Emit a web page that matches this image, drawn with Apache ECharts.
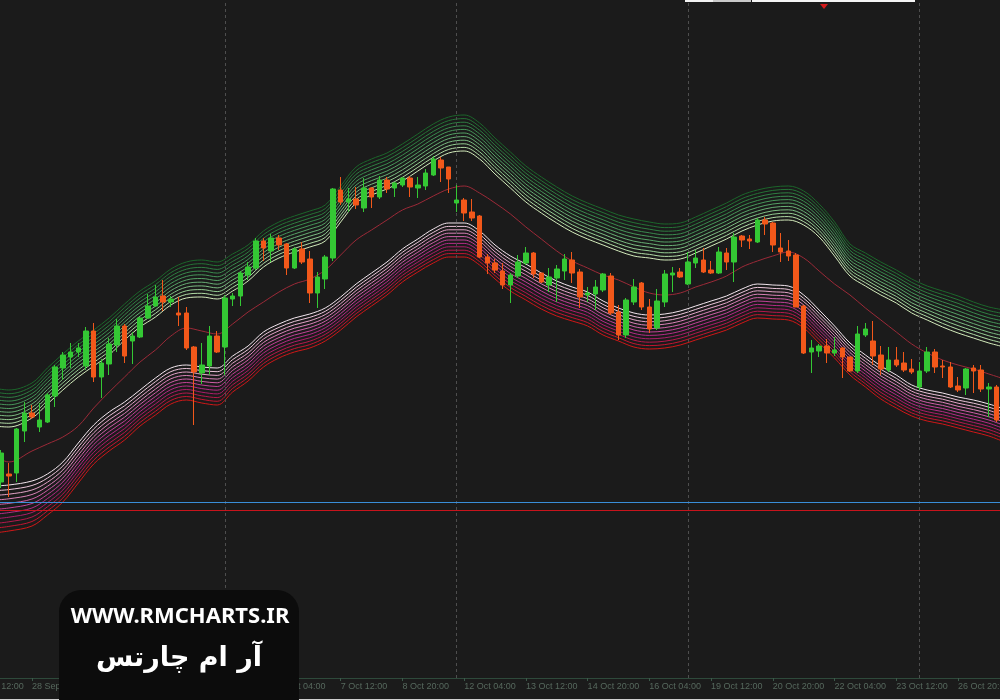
<!DOCTYPE html>
<html><head><meta charset="utf-8">
<script src="https://cdn.jsdelivr.net/npm/echarts@6/dist/echarts.min.js"></script>
<style>html,body{margin:0;padding:0;background:#1b1b1b;}#chart{width:1000px;height:700px;}</style>
</head><body><div id="chart"></div>
<script>
// ---- tick labels (one every 8 H4 bars) ----
const tickLabels = ['25 Sep 12:00','28 Sep 20:00','30 Sep 04:00','1 Oct 12:00','2 Oct 20:00','6 Oct 04:00',
  '7 Oct 12:00','8 Oct 20:00','12 Oct 04:00','13 Oct 12:00','14 Oct 20:00','16 Oct 04:00','19 Oct 12:00',
  '20 Oct 20:00','22 Oct 04:00','23 Oct 12:00','26 Oct 20:00'];
const leadBars = 4;          // bars before the first visible candle
const trailBars = 1;         // bar after the last candle
// ---- candles [open, close, low, high] ----
const candles = [
[218,247,212,250],[226,224,203,237],[227,271,218,272],[269,287,258,298],[287,283,281,295],
[273,280,268,297],[278,305,277,307],[304,333,293,335],[332,345,320,348],[343,348,332,357],
[348,352,343,357],[334,369,330,373],[369,323,318,377],[323,337,302,341],[336,356,325,362],
[355,374,348,381],[374,344,337,376],[359,364,336,368],[363,382,362,383],[382,394,381,406],
[394,403,393,415],[404,398,389,420],[398,401,393,404],[387,385,374,403],[387,352,350,393],
[353,328,275,354],[327,335,316,357],[334,364,325,374],[364,348,347,369],[353,402,325,405],
[401,404,394,407],[404,427,394,429],[425,433,420,438],[432,459,430,462],[459,452,439,462],
[449,462,438,466],[462,455,450,465],[456,432,425,457],[432,451,431,453],[451,438,436,458],
[441,407,397,449],[407,423,392,428],[421,443,411,445],[442,511,439,512],[510,498,495,523],
[498,501,488,512],[501,495,491,513],[492,512,488,522],[512,503,492,513],[503,520,501,524],
[520,511,507,523],[512,517,503,518],[515,522,513,523],[522,513,503,524],[512,515,502,523],
[514,527,510,531],[525,541,524,544],[540,532,518,543],[533,521,507,533],[497,500,488,515],
[500,487,479,502],[488,482,479,501],[484,443,442,485],[443,437,426,446],[437,430,427,441],
[429,415,411,437],[415,425,397,427],[424,438,422,445],[437,447,435,453],[447,426,422,448],
[427,418,417,427],[415,423,408,432],[422,431,398,435],[429,441,420,446],[440,427,417,448],
[428,403,392,431],[405,407,398,413],[406,413,390,420],[410,426,408,427],[424,387,385,427],
[388,365,360,395],[365,400,362,402],[398,413,395,421],[417,393,390,418],[393,371,367,401],
[372,399,370,411],[398,426,393,430],[425,427,408,433],[428,423,422,432],[416,438,415,448],
[437,442,432,450],[440,428,427,452],[430,427,426,439],[427,448,426,453],[447,438,430,452],
[438,463,418,467],[464,460,453,465],[461,459,451,465],[458,480,457,482],[480,476,465,483],
[477,455,448,478],[452,448,438,467],[449,444,439,460],[445,393,393,447],[394,347,346,395],
[348,352,327,360],[349,354,343,356],[354,347,337,361],[347,350,344,363],[352,343,322,353],
[343,329,328,343],[329,366,327,374],[365,371,363,377],[359,344,335,379],[345,331,325,354],
[330,340,328,353],[340,335,333,353],[337,330,328,348],[331,328,326,341],[313,329,310,338],
[329,348,327,353],[348,333,327,351],[334,333,322,340],[333,313,312,338],[314,310,308,323],
[312,331,305,332],[332,329,307,335],[330,311,308,335],[311,313,283,317],[313,280,278,315]
];
// ---- indicator lines, sampled at these bars ----
const lineBars = [-1,1,4,6,8,10,12,14,16,18,20,22,24,26,28,30,32,34,36,38,40,42,44,46,48,50,52,54,56,58,
  60,62,64,66,68,70,72,74,76,78,80,82,84,86,88,90,92,94,96,98,100,102,104,106,108,110,112,114,116,118,
  120,122,124,126,128,130];
const midLine = [245,238,249,256,263,274,292,308,323,338,350,364,372,369,366,376,388,398,408,416,421,430,
  445,460,470,480,490,496,504,511,514,507,497,486,473,461,449,439,432,425,420,413,407,405,407,413,418,424,
  433,439,444,448,442,429,416,405,392,380,368,356,347,340,335,331,326,321];
const upperInner = [274,273,282,296,310,323,334,345,360,373,383,395,402,403,401,409,419,433,442,448,453,459,
  478,497,505,511,519,529,539,547,549,541,526,512,498,487,477,468,461,455,449,444,442,440,441,447,454,461,
  469,475,479,480,475,463,444,424,414,405,397,387,380,373,367,362,357,353];
const upperOuter = [312,310,317,332,346,359,370,382,396,409,419,431,438,440,438,446,455,469,478,484,489,495,
  514,533,541,547,556,566,576,583,585,577,562,548,534,523,513,504,497,491,485,481,478,476,477,483,490,497,
  505,510,513,514,509,496,478,456,447,438,430,421,414,409,404,398,393,390];
const lowerInner = [214,215,219,226,238,257,275,288,298,310,322,332,335,333,332,344,354,368,376,382,386,392,
  403,416,427,438,451,461,471,477,477,469,455,444,436,427,419,413,408,399,392,387,385,386,389,394,399,404,
  411,416,415,414,405,390,374,357,345,334,325,315,310,307,303,300,296,291];
const lowerOuter = [167,169,174,185,198,217,236,249,260,274,285,296,300,297,295,308,319,333,342,348,352,359,
  370,383,394,405,418,428,437,443,443,435,421,409,400,391,384,379,374,365,359,353,351,352,355,360,365,370,
  377,382,381,380,372,357,342,325,313,301,292,284,279,276,272,268,264,258];
const bandLineCount = 11;
const upperColors = ['#d4ecbc','#b2dca6','#94cc92','#7cbc82','#68ae74','#56a266','#47965a','#3a8a4e','#2f7e42','#257236','#1c662b'];
const lowerColors = ['#f3e6ee','#ecc6da','#e4a4c8','#da82b8','#ce60a8','#c24298','#b42c86','#ac1e6a','#b5194d','#c21631','#cf1818'];
// ---- horizontal levels & week separators ----
const levelBlue = 197.5;
const levelRed = 189.5;
const separatorBars = [29, 59, 89, 119];

const catCount = leadBars + candles.length + trailBars;
const categories = [];
for (let c = 0; c < catCount; c++) categories.push(c % 8 === 0 ? tickLabels[c / 8] : 'bar' + (c - leadBars));
const showTick = (i) => i % 8 === 0;

const series = [];
function bandSeries(inner, outer, colors, name) {
  for (let k = 0; k < bandLineCount; k++) {
    const f = k / (bandLineCount - 1);
    series.push({
      type: 'line', name: name + k, silent: true, showSymbol: false, smooth: 0.35, z: 2,
      lineStyle: { width: 1, color: colors[k] },
      data: lineBars.map((b, i) => [b + leadBars, inner[i] + (outer[i] - inner[i]) * f])
    });
  }
}
bandSeries(upperInner, upperOuter, upperColors, 'up');
bandSeries(lowerInner, lowerOuter, lowerColors, 'dn');
series.push({
  type: 'line', name: 'mid', silent: true, showSymbol: false, smooth: 0.35, z: 3,
  lineStyle: { width: 1, color: '#9c2a38' },
  data: lineBars.map((b, i) => [b + leadBars, midLine[i]])
});
series.push({
  type: 'candlestick', name: 'price', z: 5, barWidth: 5,
  encode: { x: 0, y: [1, 2, 3, 4] },
  itemStyle: { color: '#34c834', color0: '#f2581a', borderColor: '#34c834', borderColor0: '#f2581a', borderWidth: 1 },
  data: candles.map((d, i) => [i + leadBars, d[0], d[1], d[2], d[3]]),
  markLine: {
    silent: true, symbol: ['none', 'none'], label: { show: false }, animation: false,
    data: [
      ...separatorBars.map(b => ({ xAxis: b + leadBars, lineStyle: { color: '#4e4e4e', type: [3, 3], width: 1 } })),
      { yAxis: levelBlue, lineStyle: { color: '#3a8ed8', type: 'solid', width: 1 } },
      { yAxis: levelRed, lineStyle: { color: '#c8141c', type: 'solid', width: 1 } }
    ]
  }
});

const chart = echarts.init(document.getElementById('chart'), null, { renderer: 'canvas' });
chart.setOption({
  backgroundColor: '#1b1b1b',
  animation: false,
  grid: { left: -29.74, right: -4.34, top: 0, bottom: 22, containLabel: false, outerBoundsMode: 'none' },
  xAxis: {
    type: 'category', data: categories, boundaryGap: false,
    axisLine: { lineStyle: { color: '#2e4a3b', width: 1 } },
    axisTick: { interval: (i) => showTick(i), length: 3, lineStyle: { color: '#3c5a4a' } },
    axisLabel: { interval: (i) => showTick(i), align: 'left', margin: 4, fontSize: 9, hideOverlap: false,
      fontFamily: 'Liberation Sans, Arial, sans-serif', color: '#56685d' },
    splitLine: { show: false }
  },
  yAxis: { type: 'value', min: 22, max: 700, show: false, splitLine: { show: false } },
  series: series,
  graphic: [
    { type: 'rect', z: 100, shape: { x: 0, y: 699, width: 1000, height: 1 }, style: { fill: '#cfcfcf' } },
    { type: 'rect', z: 100, shape: { x: 685, y: 0, width: 28, height: 2 }, style: { fill: '#f2f2f2' } },
    { type: 'rect', z: 100, shape: { x: 713, y: 0, width: 38, height: 2 }, style: { fill: '#c9c9c9' } },
    { type: 'rect', z: 100, shape: { x: 752, y: 0, width: 163, height: 2 }, style: { fill: '#f4f4f4' } },
    { type: 'polygon', z: 100, shape: { points: [[820, 4], [828, 4], [824, 9]] }, style: { fill: '#d41a1a' } },
    { type: 'rect', z: 100, shape: { x: 59, y: 590, width: 240, height: 130, r: 22 }, style: { fill: '#0c0c0c' } },
    { type: 'text', z: 101, style: { text: 'WWW.RMCHARTS.IR', x: 180, y: 617, align: 'center', verticalAlign: 'middle',
      font: 'bold 22px "Noto Sans", "DejaVu Sans", sans-serif', fill: '#ffffff' } },
    { type: 'text', z: 101, style: { text: 'آر ام چارتس', x: 179, y: 659, align: 'center', verticalAlign: 'middle',
      font: 'bold 27px "DejaVu Sans", sans-serif', fill: '#ffffff' } }
  ]
});
</script></body></html>
